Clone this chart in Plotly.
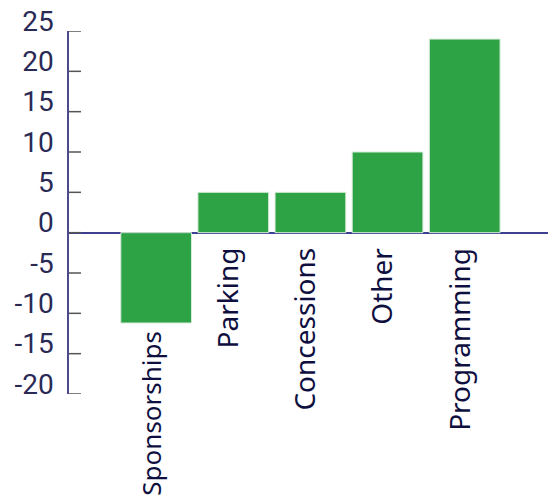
import plotly.graph_objects as go

categories = ["Sponsorships", "Parking", "Concessions", "Other", "Programming"]
values = [-11.2, 5, 5, 10, 24]
y_ticks = [-20, -15, -10, -5, 0, 5, 10, 15, 20, 25]

BAR_GREEN = "#2ea346"
NAVY = "#2a2a55"
LABEL_NAVY = "#0f0f3f"
TICK_GRAY = "#555555"

fig = go.Figure()
fig.add_trace(go.Bar(
    x=list(range(len(categories))),
    y=values,
    marker=dict(color=BAR_GREEN, line=dict(color="#d6ecd9", width=1)),
    hoverinfo="skip",
))

# category names sit just beneath each bar, rotated to read upwards
for i, (name, v) in enumerate(zip(categories, values)):
    fig.add_annotation(
        x=i, y=min(0, v), xref="x", yref="y",
        text=name, textangle=-90, showarrow=False,
        xanchor="center", yanchor="top",
        xshift=-6, yshift=-13 if v >= 0 else -6,
        font=dict(family="Noto Sans", size=28 if v >= 0 else 26, color=LABEL_NAVY),
    )

# short tick marks pointing into the plot from the value axis
for t in y_ticks:
    fig.add_shape(
        type="line", xref="paper", yref="y",
        xsizemode="pixel", xanchor=0, x0=0, x1=12, y0=t, y1=t,
        line=dict(color=TICK_GRAY, width=1.5), layer="above",
    )

fig.update_layout(
    width=548, height=499,
    margin=dict(l=69, r=0, t=31, b=105),
    paper_bgcolor="white", plot_bgcolor="white",
    showlegend=False, bargap=0.083,
    xaxis=dict(range=[-1.13, 5.08], showticklabels=False, showgrid=False,
               zeroline=False, showline=False, ticks=""),
    yaxis=dict(range=[-20, 25], tickvals=y_ticks,
               ticktext=[str(t) for t in y_ticks],
               showgrid=False, showline=True, linecolor="#4a4a8c", linewidth=1.5,
               ticks="",
               zeroline=True, zerolinecolor="#3f3f8f", zerolinewidth=1.5,
               ticklabelshift=-10, ticklabelstandoff=8,
               tickfont=dict(family="Roboto", size=28, color=NAVY)),
)

fig.write_html("out.html")
